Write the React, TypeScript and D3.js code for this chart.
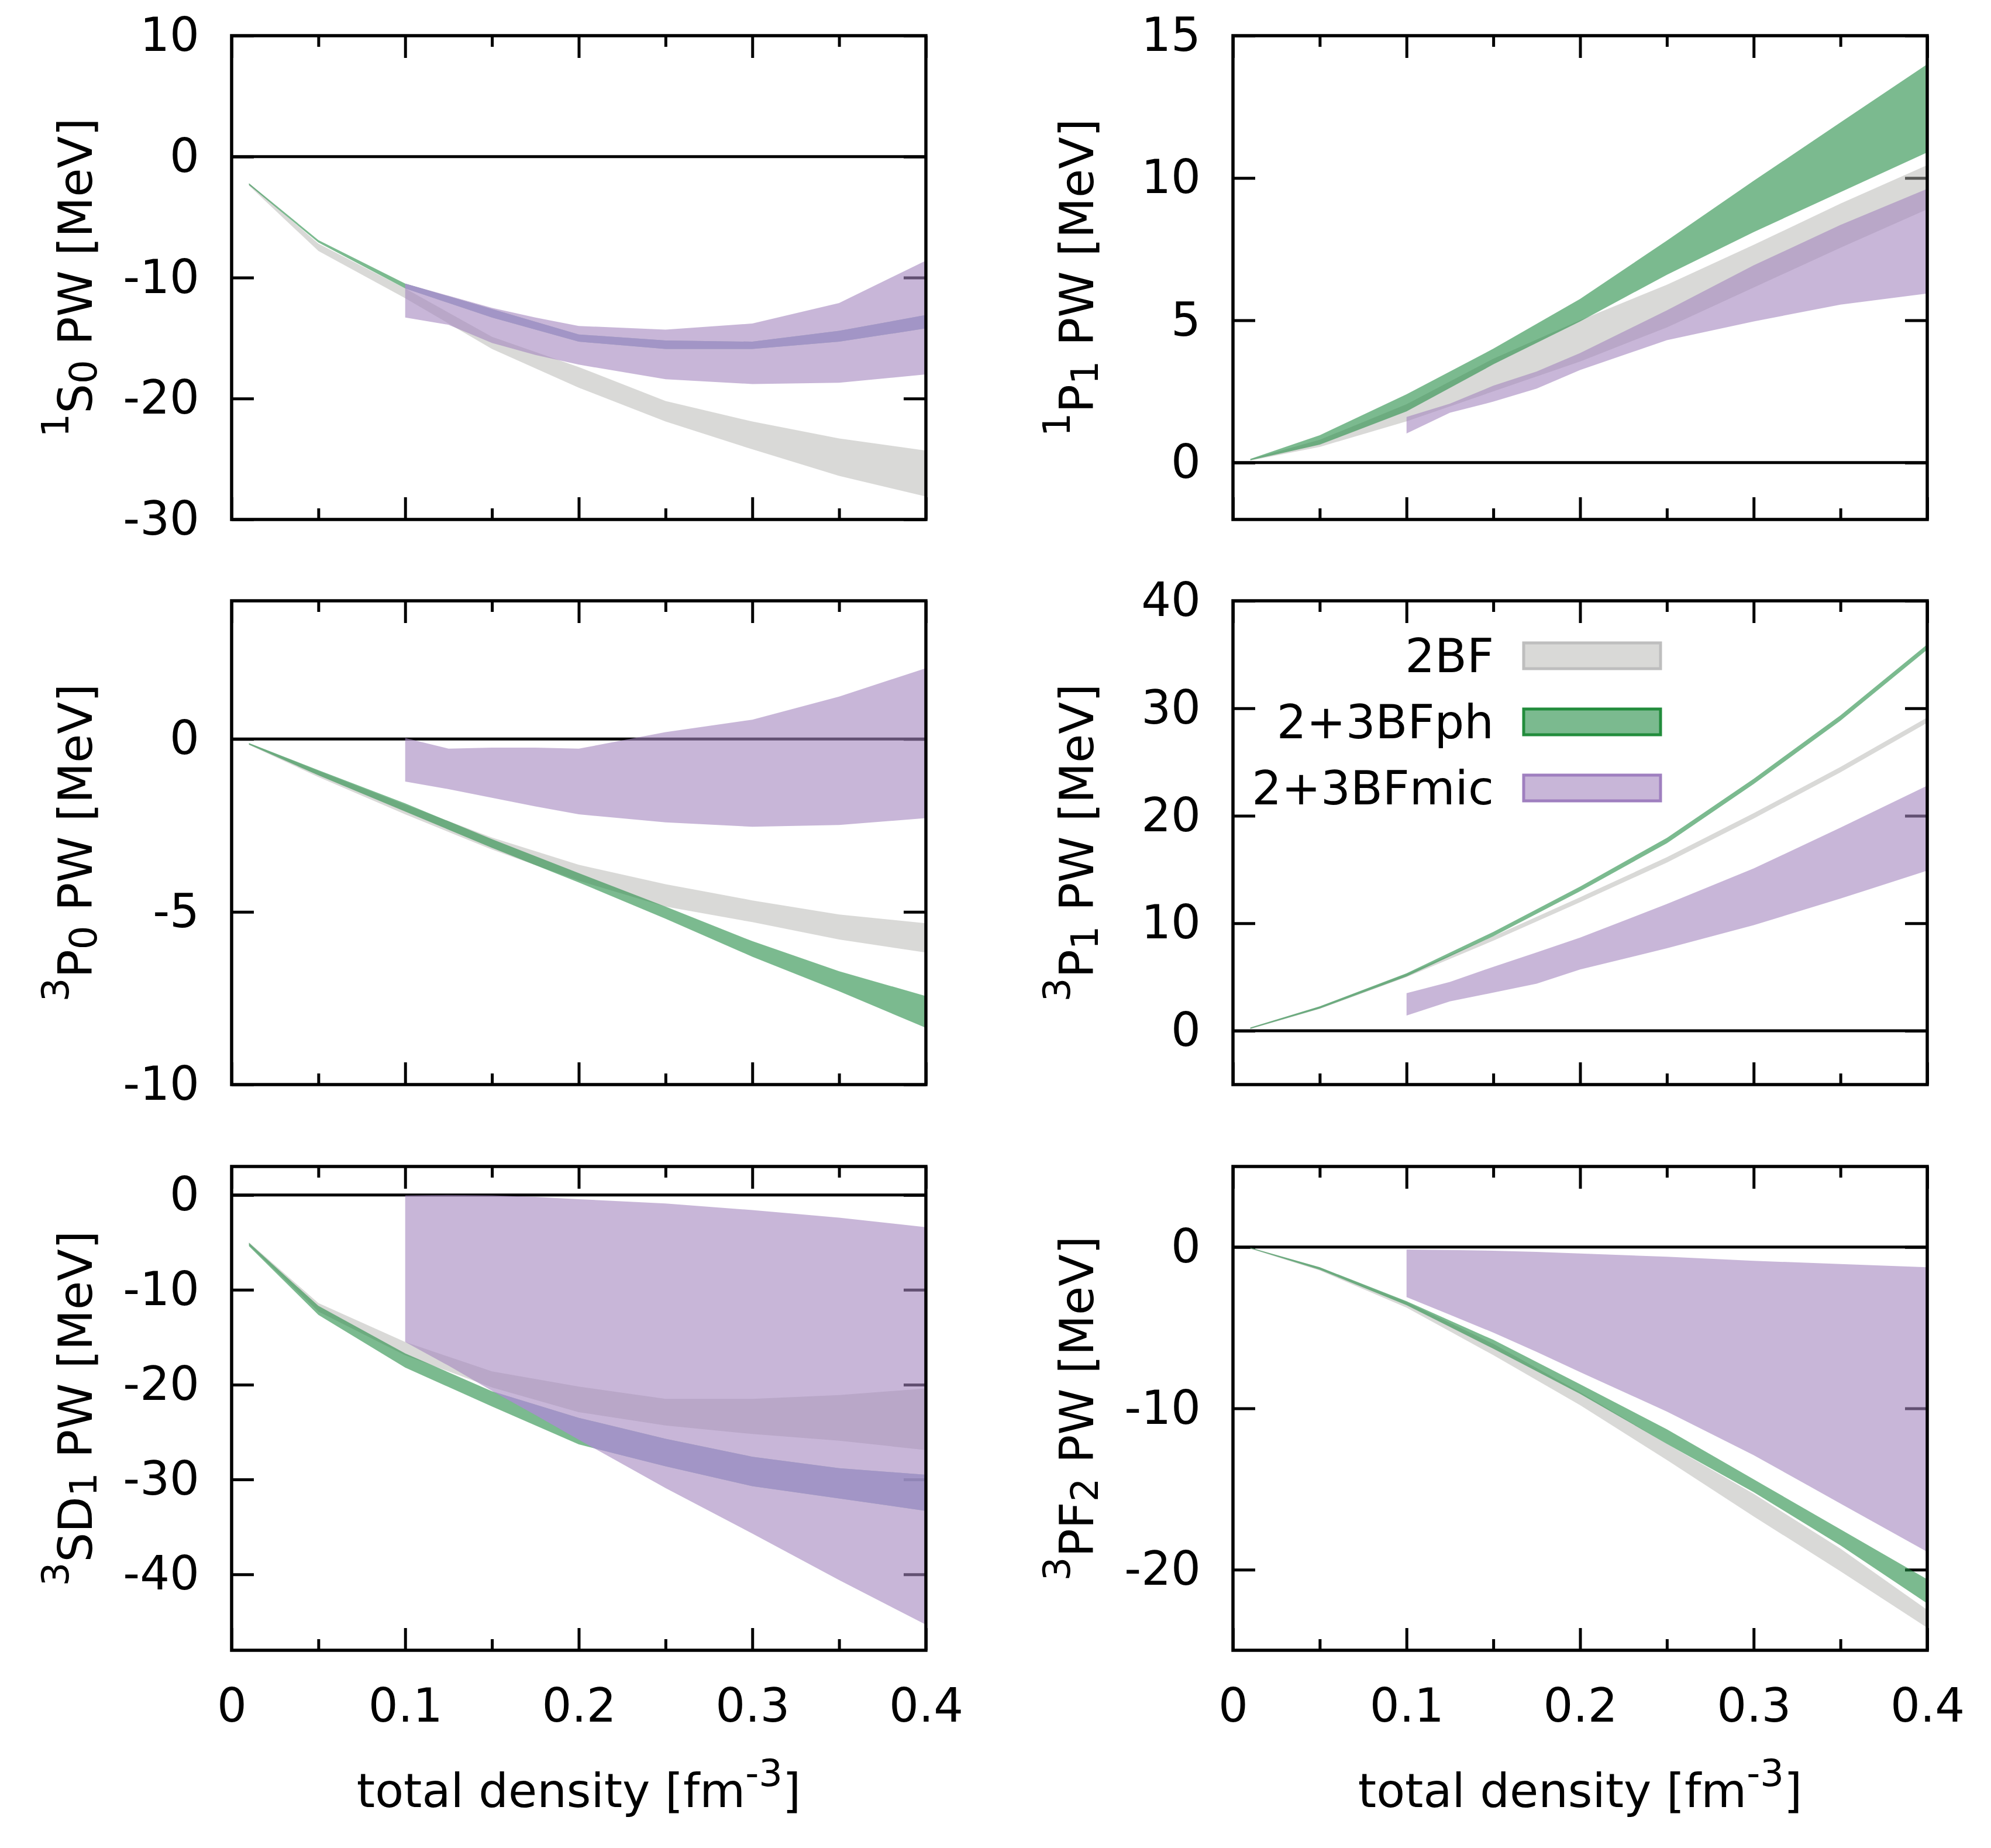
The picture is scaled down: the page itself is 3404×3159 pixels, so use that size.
import * as d3 from "d3";
import { useRef, useEffect } from "react";

const W = 3404;
const H = 3159;
const FONT = "'DejaVu Sans', sans-serif";

// densities [fm^-3]
const rhoBase = [0.01, 0.05, 0.1, 0.15, 0.2, 0.25, 0.3, 0.35, 0.4];
const rhoMic = [0.1, 0.125, 0.15, 0.175, 0.2, 0.25, 0.3, 0.35, 0.4];

const xTicks = [0, 0.1, 0.2, 0.3, 0.4];
const xMinor = [0.05, 0.15, 0.25, 0.35];

// bands as [lo, hi] in MeV
// 1S0
const s1s0_2bf = [[-2.4, -2.2], [-7.8, -7.2], [-11.7, -10.9], [-15.9, -14.9], [-19.1, -17.4], [-21.9, -20.2], [-24.2, -21.9], [-26.4, -23.3], [-28.1, -24.3]];
const s1s0_ph = [[-2.35, -2.2], [-7.1, -6.9], [-10.9, -10.5], [-13.3, -12.6], [-15.3, -14.7], [-15.9, -15.2], [-15.9, -15.3], [-15.3, -14.4], [-14.2, -13.1]];
const s1s0_mic = [[-13.3, -10.5], [-13.9, -11.5], [-15.4, -12.5], [-16.4, -13.3], [-17.2, -14.0], [-18.4, -14.3], [-18.8, -13.8], [-18.7, -12.1], [-18.0, -8.6]];
// 1P1
const p1p1_2bf = [[0.07, 0.12], [0.55, 0.8], [1.45, 2.05], [2.5, 3.65], [3.55, 5.0], [4.75, 6.25], [6.15, 7.65], [7.55, 9.1], [8.9, 10.45]];
const p1p1_ph = [[0.08, 0.13], [0.63, 0.96], [1.8, 2.4], [3.45, 4.0], [4.96, 5.75], [6.6, 7.8], [8.1, 9.9], [9.5, 11.95], [10.9, 14.0]];
const p1p1_mic = [[1.02, 1.6], [1.75, 2.07], [2.14, 2.7], [2.6, 3.2], [3.25, 3.85], [4.3, 5.35], [4.96, 6.93], [5.55, 8.35], [5.94, 9.62]];
// 3P0
const p3p0_2bf = [[-0.17, -0.12], [-1.1, -0.92], [-2.18, -1.9], [-3.2, -2.85], [-4.1, -3.64], [-4.85, -4.2], [-5.3, -4.67], [-5.8, -5.08], [-6.18, -5.33]];
const p3p0_ph = [[-0.16, -0.12], [-1.05, -0.9], [-2.1, -1.86], [-3.15, -2.9], [-4.15, -3.88], [-5.2, -4.85], [-6.3, -5.85], [-7.3, -6.72], [-8.36, -7.44]];
const p3p0_mic = [[-1.23, 0.03], [-1.45, -0.28], [-1.7, -0.25], [-1.95, -0.25], [-2.18, -0.28], [-2.41, 0.2], [-2.54, 0.56], [-2.49, 1.23], [-2.29, 2.05]];
// 3P1
const p3p1_2bf = [[0.17, 0.3], [2.04, 2.26], [5.0, 5.3], [8.38, 8.8], [11.97, 12.43], [15.65, 16.15], [19.75, 20.25], [24.05, 24.55], [28.65, 29.15]];
const p3p1_ph = [[0.2, 0.3], [2.08, 2.28], [5.05, 5.35], [8.8, 9.2], [12.98, 13.42], [17.45, 17.95], [22.95, 23.45], [28.85, 29.35], [35.45, 35.95]];
const p3p1_mic = [[1.42, 3.5], [2.74, 4.55], [3.55, 5.95], [4.39, 7.3], [5.7, 8.67], [7.68, 11.8], [9.83, 15.1], [12.3, 18.9], [14.9, 22.8]];
// 3SD1
const sd3_2bf = [[-5.3, -5.0], [-12.3, -11.4], [-16.9, -15.5], [-20.3, -18.6], [-22.9, -20.2], [-24.3, -21.5], [-25.2, -21.5], [-25.9, -21.1], [-26.9, -20.4]];
const sd3_ph = [[-5.4, -5.05], [-12.65, -11.7], [-18.2, -16.7], [-22.3, -20.7], [-26.3, -23.5], [-28.6, -25.7], [-30.7, -27.6], [-32.0, -28.8], [-33.3, -29.5]];
const sd3_mic = [[-15.5, -0.05], [-18.0, 0], [-20.65, -0.05], [-23.2, -0.2], [-25.8, -0.45], [-30.9, -0.9], [-35.7, -1.6], [-40.6, -2.4], [-45.3, -3.4]];
// 3PF2
const pf3_2bf = [[-0.1, -0.03], [-1.45, -1.25], [-3.75, -3.4], [-6.7, -6.0], [-9.8, -9.0], [-13.2, -12.2], [-16.7, -15.3], [-20.1, -18.7], [-23.6, -22.5]];
const pf3_ph = [[-0.08, -0.03], [-1.4, -1.25], [-3.6, -3.35], [-6.3, -5.75], [-9.1, -8.5], [-12.2, -11.3], [-15.2, -14.4], [-18.5, -17.5], [-22.1, -20.6]];
const pf3_mic = [[-3.1, -0.15], [-4.2, -0.18], [-5.3, -0.22], [-6.5, -0.3], [-7.75, -0.4], [-10.2, -0.6], [-12.9, -0.85], [-15.9, -1.05], [-18.9, -1.25]];

const legendNames = ["2BF", "2+3BFph", "2+3BFmic"];

const colX = [396, 2108];
const rowY = [61, 1027, 1994];
const PW = 1187;
const PH = 827;

const C2BF = { fill: "#b3b3af", op: 0.5, edge: "#bebebe" };
const CPH = { fill: "#238c44", op: 0.6, edge: "#228c3c" };
const CMIC = { fill: "#a385be", op: 0.6, edge: "#9f7fbf" };

const panels = [
  { wave: ["1", "S", "0"], domain: [-30, 10], ticks: [-30, -20, -10, 0, 10], bf2: s1s0_2bf, ph: s1s0_ph, mic: s1s0_mic, col: 0, row: 0 },
  { wave: ["1", "P", "1"], domain: [-2, 15], ticks: [0, 5, 10, 15], bf2: p1p1_2bf, ph: p1p1_ph, mic: p1p1_mic, col: 1, row: 0 },
  { wave: ["3", "P", "0"], domain: [-10, 4], ticks: [-10, -5, 0], bf2: p3p0_2bf, ph: p3p0_ph, mic: p3p0_mic, col: 0, row: 1 },
  { wave: ["3", "P", "1"], domain: [-5, 40], ticks: [0, 10, 20, 30, 40], bf2: p3p1_2bf, ph: p3p1_ph, mic: p3p1_mic, col: 1, row: 1 },
  { wave: ["3", "SD", "1"], domain: [-48, 3], ticks: [-40, -30, -20, -10, 0], bf2: sd3_2bf, ph: sd3_ph, mic: sd3_mic, col: 0, row: 2 },
  { wave: ["3", "PF", "2"], domain: [-25, 5], ticks: [-20, -10, 0], bf2: pf3_2bf, ph: pf3_ph, mic: pf3_mic, col: 1, row: 2 },
];

type Pt = { r: number; lo: number; hi: number };
const toPts = (rho: number[], v: number[][]): Pt[] => rho.map((r, i) => ({ r, lo: v[i][0], hi: v[i][1] }));

function Panel({ p, idx, showX, legend }: { p: any; idx: number; showX: boolean; legend: boolean }) {
  const gL = useRef<SVGGElement | null>(null);
  const gR = useRef<SVGGElement | null>(null);
  const gT = useRef<SVGGElement | null>(null);
  const gB = useRef<SVGGElement | null>(null);
  const gTm = useRef<SVGGElement | null>(null);
  const gBm = useRef<SVGGElement | null>(null);

  const x = d3.scaleLinear().domain([0, 0.4]).range([0, PW]);
  const y = d3.scaleLinear().domain(p.domain).range([PH, 0]);

  const area = d3
    .area<Pt>()
    .x((d) => x(d.r))
    .y0((d) => y(d.lo))
    .y1((d) => y(d.hi));

  useEffect(() => {
    const tidy = (g: any) => {
      g.attr("font-size", null).attr("font-family", null);
      g.select(".domain").remove();
      g.selectAll(".tick line").attr("stroke", "#000").attr("stroke-width", 5);
      g.selectAll(".tick text").attr("fill", "#000").attr("font-size", 80).attr("font-family", FONT);
    };
    const blank = () => "";
    if (gL.current)
      tidy(d3.select(gL.current).call(d3.axisLeft(y).tickValues(p.ticks).tickSize(-38).tickPadding(55).tickFormat((d: any) => String(d))));
    if (gR.current) tidy(d3.select(gR.current).call(d3.axisRight(y).tickValues(p.ticks).tickSize(-38).tickFormat(blank)));
    if (gT.current) tidy(d3.select(gT.current).call(d3.axisTop(x).tickValues(xTicks).tickSize(-38).tickFormat(blank)));
    if (gTm.current) tidy(d3.select(gTm.current).call(d3.axisTop(x).tickValues(xMinor).tickSize(-19).tickFormat(blank)));
    if (gBm.current) tidy(d3.select(gBm.current).call(d3.axisBottom(x).tickValues(xMinor).tickSize(-19).tickFormat(blank)));
    if (gB.current)
      tidy(
        d3
          .select(gB.current)
          .call(
            d3
              .axisBottom(x)
              .tickValues(xTicks)
              .tickSize(-38)
              .tickPadding(65)
              .tickFormat(showX ? (d: any) => String(d) : blank)
          )
      );
  }, [p, showX]);

  const bf2 = area(toPts(rhoBase, p.bf2)) || "";
  const ph = area(toPts(rhoBase, p.ph)) || "";
  const mic = area(toPts(rhoMic, p.mic)) || "";
  const clipId = `mic-clip-${idx}`;

  const left = colX[p.col];
  const top = rowY[p.row];

  return (
    <g transform={`translate(${left},${top})`}>
      <defs>
        <clipPath id={clipId}>
          <path d={mic} />
        </clipPath>
      </defs>
      <line x1={0} x2={PW} y1={y(0)} y2={y(0)} stroke="#000" strokeWidth={5} />
      <g ref={gL} />
      <g ref={gR} transform={`translate(${PW},0)`} />
      <g ref={gT} />
      <g ref={gTm} />
      <g ref={gB} transform={`translate(0,${PH})`} />
      <g ref={gBm} transform={`translate(0,${PH})`} />
      <path d={bf2} fill={C2BF.fill} fillOpacity={C2BF.op} />
      <path d={ph} fill={CPH.fill} fillOpacity={CPH.op} />
      <path d={mic} fill={CMIC.fill} fillOpacity={CMIC.op} />
      <path d={ph} fill="#ac93d8" fillOpacity={0.6} clipPath={`url(#${clipId})`} />
      <rect x={0} y={0} width={PW} height={PH} fill="none" stroke="#000" strokeWidth={5.5} />
      <text
        transform={`translate(-239,${PH / 2}) rotate(-90)`}
        textAnchor="middle"
        fontSize={80}
        fontFamily={FONT}
        fill="#000"
      >
        <tspan fontSize={64} dy={-40}>
          {p.wave[0]}
        </tspan>
        <tspan dy={40}>{p.wave[1]}</tspan>
        <tspan fontSize={64} dy={8}>
          {p.wave[2]}
        </tspan>
        <tspan dy={-8}> PW [MeV]</tspan>
      </text>
      {showX && (
        <text x={PW / 2} y={3089 - top} textAnchor="middle" fontSize={80} fontFamily={FONT} fill="#000">
          total density [fm
          <tspan fontSize={64} dy={-36}>
            -3
          </tspan>
          <tspan dy={36}>]</tspan>
        </text>
      )}
      {legend &&
        [C2BF, CPH, CMIC].map((c, i) => {
          const cy = 94 + i * 113;
          return (
            <g key={i}>
              <text x={446} y={cy + 28} textAnchor="end" fontSize={80} fontFamily={FONT} fill="#000">
                {legendNames[i]}
              </text>
              <rect x={497} y={cy - 22} width={234} height={44} fill={c.fill} fillOpacity={c.op} stroke={c.edge} strokeWidth={5} />
            </g>
          );
        })}
    </g>
  );
}

export default function App() {
  return (
    <svg
      width={W}
      height={H}
      viewBox={`0 0 ${W} ${H}`}
      style={{ position: "absolute", left: 0, top: 0, background: "#fff", display: "block" }}
    >
      <rect x={0} y={0} width={W} height={H} fill="#fff" />
      {panels.map((p, i) => (
        <Panel key={i} p={p} idx={i} showX={p.row === 2} legend={i === 3} />
      ))}
    </svg>
  );
}
